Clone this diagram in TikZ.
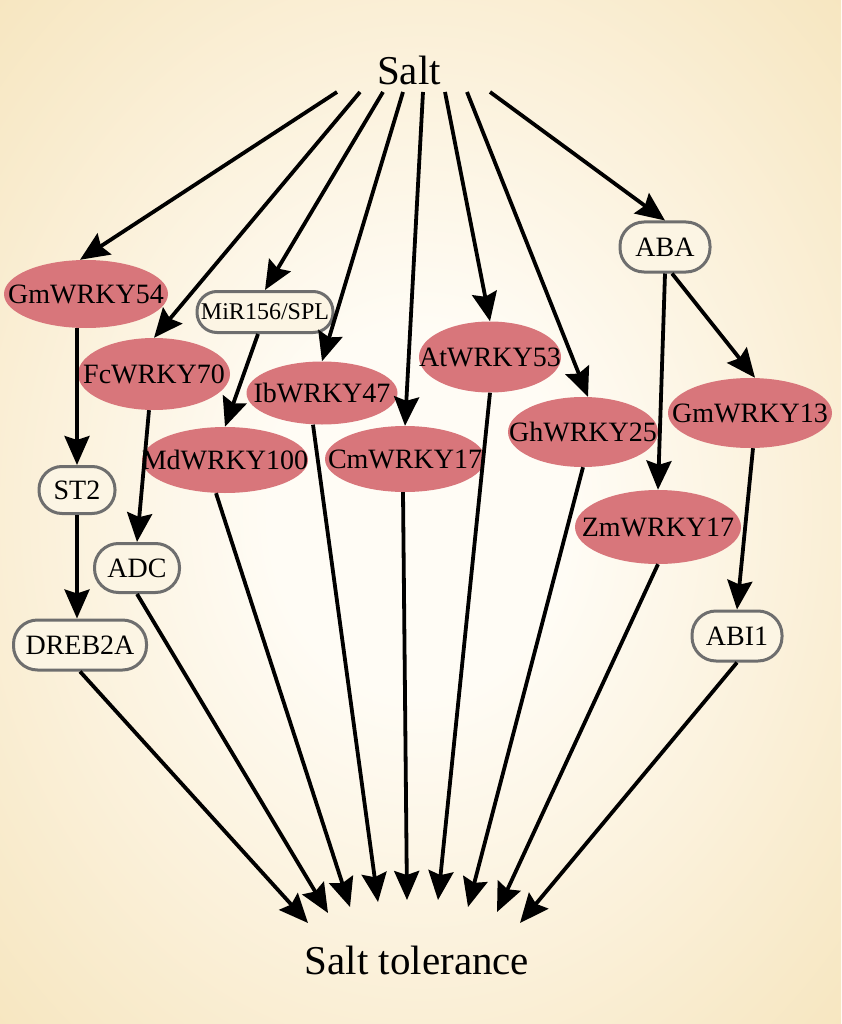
\documentclass[tikz,border=0pt]{standalone}
\usepackage{fontspec}
\setmainfont{Liberation Serif}
\usetikzlibrary{shapes.geometric,arrows.meta,calc}
\definecolor{wrky}{HTML}{D8767B}
\definecolor{boxfill}{HTML}{FCF5E4}
\definecolor{boxline}{HTML}{6E6E6E}
\definecolor{bgin}{HTML}{FFFCF5}
\definecolor{bgmid}{HTML}{F9ECCF}
\definecolor{bgout}{HTML}{F3DEAC}
\pgfdeclareradialshading{bgshade}{\pgfpoint{0bp}{0bp}}{color(0bp)=(bgin); color(9bp)=(bgin); color(28bp)=(bgmid); color(46bp)=(bgout); color(50bp)=(bgout)}
\newcommand\mkc[1]{\makebox[0pt]{#1}}
\tikzset{
  wk/.style={ellipse, fill=wrky, inner sep=0pt, font=\fontsize{28}{30}\selectfont},
  bx/.style={rectangle, rounded corners=#1, draw=boxline, line width=3pt, fill=boxfill, inner sep=0pt, font=\fontsize{28}{30}\selectfont},
  bx/.default=23pt,
  ar/.style={line width=3.8pt, -{Stealth[length=29pt,width=25pt,inset=4pt]}},
  big/.style={font=\fontsize{41}{44}\selectfont, inner sep=0pt}
}
\begin{document}
\begin{tikzpicture}[x=1pt,y=-1pt]
\useasboundingbox (0,0) rectangle (841,1024);
\fill[shading=bgshade] (0,0) rectangle (841,1024);

\node[big] (salt) at (409,70) {Salt};
\node[big] (tol) at (417,960) {Salt tolerance};

% WRKY ellipses
\node[wk, minimum width=164, minimum height=68] (gm54) at (86,294) {\mkc{GmWRKY54}};
\node[wk, minimum width=152, minimum height=72] (fc70) at (154,374) {\mkc{FcWRKY70}};
\node[wk, minimum width=151, minimum height=63] (ib47) at (322,393) {\mkc{IbWRKY47}};
\node[wk, minimum width=166, minimum height=66] (md100) at (225,460) {\mkc{MdWRKY100}};
\node[wk, minimum width=160, minimum height=66] (cm17) at (405,459) {\mkc{CmWRKY17}};
\node[wk, minimum width=142, minimum height=71] (at53) at (490,357) {\mkc{AtWRKY53}};
\node[wk, minimum width=150, minimum height=70] (gh25) at (583,432) {\mkc{GhWRKY25}};
\node[wk, minimum width=164, minimum height=70] (gm13) at (750,413) {\mkc{GmWRKY13}};
\node[wk, minimum width=166, minimum height=74] (zm17) at (658,527) {\mkc{ZmWRKY17}};

% boxes
\node[bx=20pt, minimum width=136, minimum height=41, font=\fontsize{24}{26}\selectfont] (mir) at (265,312) {\mkc{MiR156/SPL}};
\node[bx=24pt, minimum width=90, minimum height=50] (aba) at (665,247) {\mkc{ABA}};
\node[bx=23pt, minimum width=76, minimum height=47] (st2) at (77,490) {\mkc{ST2}};
\node[bx=24pt, minimum width=85, minimum height=49] (adc) at (137,568) {\mkc{ADC}};
\node[bx=24pt, minimum width=133, minimum height=50] (dreb) at (80,645) {\mkc{DREB2A}};
\node[bx=24pt, minimum width=90, minimum height=50] (abi) at (737,636) {\mkc{ABI1}};

% start points below Salt
\coordinate (s1) at (337,92);
\coordinate (s2) at (360,92);
\coordinate (s3) at (383,92);
\coordinate (s4) at (403,92);
\coordinate (s5) at (423,92);
\coordinate (s6) at (445,92);
\coordinate (s7) at (467,92);
\coordinate (s8) at (490,92);

% end points above Salt tolerance
\coordinate (t1) at (308,923);
\coordinate (t2) at (328,913);
\coordinate (t3) at (350,907);
\coordinate (t4) at (378,902);
\coordinate (t5) at (407,900);
\coordinate (t6) at (438,900);
\coordinate (t7) at (468,907);
\coordinate (t8) at (497,912);
\coordinate (t9) at (520,923);

% Salt -> targets
\draw[ar] (s1) -- ([xshift=-6pt]gm54.north);
\draw[ar] (s2) -- (fc70.north);
\draw[ar] (s3) -- (mir.north);
\draw[ar] (s4) -- (ib47.north);
\draw[ar] (s5) -- (cm17.north);
\draw[ar] (s6) -- (at53.north);
\draw[ar] (s7) -- ([xshift=5pt]gh25.north);
\draw[ar] (s8) -- (aba.north);

% intermediate
\draw[ar] (gm54.south -| st2.north) -- (st2.north);
\draw[ar] (st2.south) -- (st2.south |- dreb.north);
\draw[ar] ([xshift=-5pt]fc70.south) -- (adc.north);
\draw[ar] ([xshift=-7pt]mir.south) -- (md100.north);
\draw[ar] (aba.south) -- (zm17.north);
\draw[ar] ([xshift=7pt]aba.south) -- ([xshift=5pt]gm13.north);
\draw[ar] ([xshift=3pt]gm13.south) -- (abi.north);

% to Salt tolerance
\draw[ar] (dreb.south) -- (t1);
\draw[ar] (adc.south) -- (t2);
\draw[ar] ([xshift=-9pt]md100.south) -- (t3);
\draw[ar] ([xshift=-9pt]ib47.south) -- (t4);
\draw[ar] ([xshift=-2pt]cm17.south) -- (t5);
\draw[ar] (at53.south) -- (t6);
\draw[ar] (gh25.south) -- (t7);
\draw[ar] (zm17.south) -- (t8);
\draw[ar] (abi.south) -- (t9);
\end{tikzpicture}
\end{document}
